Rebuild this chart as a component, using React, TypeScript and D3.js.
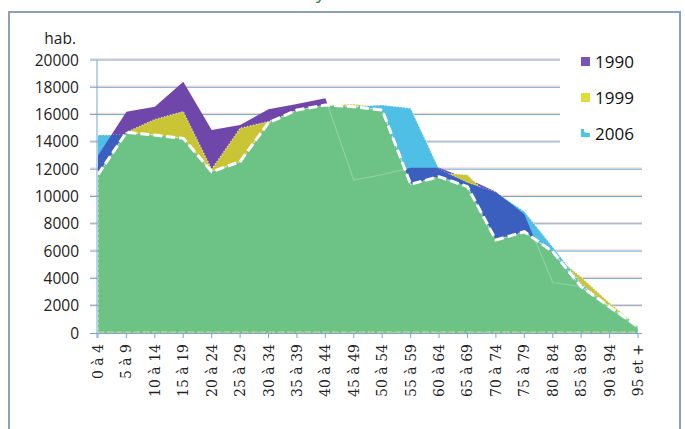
import React from "react";
import * as d3 from "d3";

const categories = ["0 à 4","5 à 9","10 à 14","15 à 19","20 à 24","25 à 29","30 à 34","35 à 39","40 à 44","45 à 49","50 à 54","55 à 59","60 à 64","65 à 69","70 à 74","75 à 79","80 à 84","85 à 89","90 à 94","95 et +"];
const values1990 = [13000,16200,16580,18400,14870,15240,16390,16780,17190,11200,11600,12100,12100,11300,10350,8700,3700,3400,1800,400];
const values1999 = [11500,14700,15650,16220,12000,15000,15500,16300,16700,16750,16500,11000,11700,11600,9500,8000,5800,4100,2200,500];
const values2006 = [14500,14500,14400,14000,11800,12500,15300,16300,16600,16600,16700,16460,12000,11000,10300,8900,6300,3600,1900,500];
const valuesFront = [11600,14700,14500,14260,11820,12550,15400,16340,16700,16580,16340,10900,11450,10720,6810,7420,5960,3390,1930,460];
const yTicks = [0,2000,4000,6000,8000,10000,12000,14000,16000,18000,20000];
const legendLabels = ["1990","1999","2006"];

const W = 685, H = 429;

export default function App() {
  const x = d3.scalePoint<string>().domain(categories).range([98, 638]);
  const y = d3.scaleLinear().domain([0, 20000]).range([333, 60]);
  const area = (vals: number[]) =>
    d3.area<number>().x((_, i) => x(categories[i])!).y0(y(0)).y1((d) => y(d))(vals) || "";
  const line = (vals: number[]) =>
    d3.line<number>().x((_, i) => x(categories[i])!).y((d) => y(d))(vals) || "";

  const purple = "#6f46aa";
  const yellow = "#c9c535";
  const lblue = "#4fbfe6";
  const dblue = "#3b5fbf";
  const green = "#6dc286";

  return (
    <svg width={W} height={H} style={{ position: "absolute", left: 0, top: 0, background: "#fff" }}>
      <defs>
        <clipPath id="clip1990"><path d={area(values1990)} /></clipPath>
        <clipPath id="clipFront"><path d={area(valuesFront)} /></clipPath>
      </defs>
      {/* cut-off title */}
      <text x={316} y={-1} fontFamily="Open Sans" fontSize={18} fill="#1d7a3c">y</text>
      {/* frame */}
      <rect x={9} y={12} width={671} height={440} fill="#fff" stroke="#8ba2b8" strokeWidth={2} />
      {/* gridlines */}
      {yTicks.filter((v) => v > 0).map((v) => {
        const xe = v >= 14000 ? 560 : 642;
        return (
          <g key={v}>
            <line x1={90} x2={xe} y1={y(v) - 1.2} y2={y(v) - 1.2} stroke="#f2b49c" strokeWidth={1} opacity={0.6} />
            <line x1={90} x2={xe} y1={y(v)} y2={y(v)} stroke="#6fa9d4" strokeWidth={1} />
          </g>
        );
      })}
      {/* areas */}
      <path d={area(values1990)} fill={purple} />
      <path d={area(values1999)} fill={yellow} />
      <path d={line(values1999)} fill="none" stroke="#fff" strokeWidth={1.3} strokeDasharray="1 2" opacity={0.8} />
      <path d={area(values2006)} fill={lblue} />
      <path d={line(values2006)} fill="none" stroke="#fff" strokeWidth={1.3} strokeDasharray="1 2" opacity={0.7} />
      <path d={area(values2006)} fill={dblue} clipPath="url(#clip1990)" />
      <path d={area(valuesFront)} fill={green} />
      <path d={line(values1990)} fill="none" stroke="#93d6a6" strokeWidth={1.2} opacity={0.8} clipPath="url(#clipFront)" />
      <path d={area(valuesFront)} fill="none" stroke="#fff" strokeWidth={1.2} strokeDasharray="3 2" opacity={0.6} />
      <path d={line(valuesFront)} fill="none" stroke="#fff" strokeWidth={3} strokeDasharray="9 4" />
      {/* axes */}
      <line x1={97} x2={97} y1={60} y2={338} stroke="#6fa9d4" strokeWidth={1} />
      <line x1={90} x2={642} y1={y(0) + 0.5} y2={y(0) + 0.5} stroke="#6fa9d4" strokeWidth={1} />
      <line x1={98} x2={638} y1={y(0) - 1} y2={y(0) - 1} stroke="#e8d46a" strokeWidth={1} strokeDasharray="6 3" />
      {categories.map((c) => (
        <line key={c} x1={x(c)!} x2={x(c)!} y1={y(0)} y2={y(0) + 5} stroke="#6fa9d4" strokeWidth={1} />
      ))}
      {yTicks.map((v) => (
        <text key={v} x={79} y={y(v) + 5.5} textAnchor="end" fontFamily="Open Sans" fontSize={15.5} fill="#222">{v}</text>
      ))}
      <text x={76} y={44} textAnchor="end" fontFamily="Open Sans" fontSize={15.5} fill="#222">hab.</text>
      {categories.map((c) => (
        <text key={c} transform={`translate(${x(c)! + 5},344) rotate(-90)`} textAnchor="end" fontFamily="DejaVu Serif" fontSize={14} fill="#222">{c}</text>
      ))}
      {/* legend */}
      <rect x={581} y={57} width={9} height={9} fill="#7b52b5" />
      <rect x={581} y={93} width={9} height={9} fill="#dedd3a" />
      <path d="M581,137 L581,129 L584,129 L584,132 L587,133 L590,133 L590,137 Z" fill="#4fc3ea" />
      {legendLabels.map((l, i) => (
        <text key={l} x={595} y={68 + i * 36} fontFamily="Open Sans" fontSize={17} fill="#111">{l}</text>
      ))}
    </svg>
  );
}
